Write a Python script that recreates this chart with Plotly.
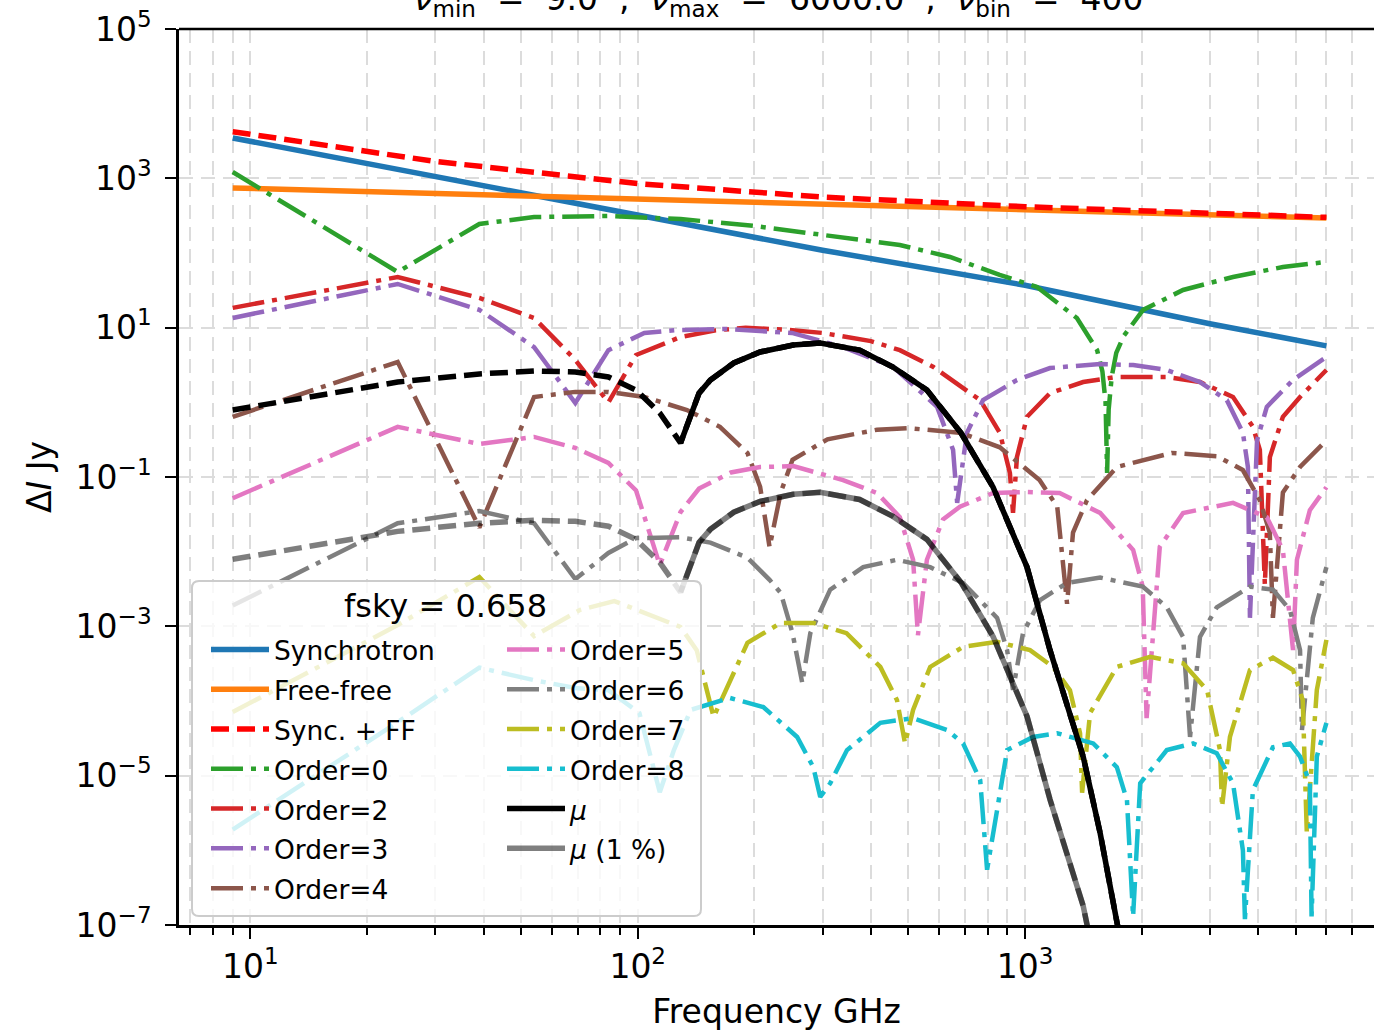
import plotly.graph_objects as go

# ---------------- data ----------------
freq_sync = [9, 30, 100, 300, 1000, 3000, 6000]
synchrotron = [3470, 1057, 323, 109, 37, 11.3, 5.7]

freq_ff = [9, 30, 100, 300, 1000, 3000, 6000]
free_free = [743, 627, 527, 452, 380, 326, 294]

freq_sum = [9, 30, 100, 300, 1000, 3000, 6000]
sync_ff = [4213, 1684, 850, 561, 417, 337, 300]

freq_o0 = [9, 24, 39, 54, 84, 129, 200, 262, 475, 640, 860, 1074, 1361, 1535, 1584,
           1614, 1629, 1644, 1674, 1720, 1800, 2018, 2559, 3443, 4632, 6000]
order0 = [1216, 55.7, 245, 303, 313, 285, 230, 191, 128, 88.5, 51, 35, 13.5, 5.0, 2.6,
          1.0, 0.113, 0.8, 2.2, 4.6, 7.8, 17.3, 32, 47.7, 65, 76]

freq_o2 = [9, 24, 39, 54, 69, 84, 99, 114, 129, 159, 190, 247, 300, 400, 475, 580, 766,
           861, 914, 931, 953, 1012, 1160, 1413, 1726, 2323, 2829, 3443, 3875, 4039,
           4161, 4287, 4632, 5129, 6000]
order2 = [18.4, 47.7, 25, 13.5, 3.7, 1.0, 4.3, 5.8, 7.5, 9.2, 10, 9.3, 8.5, 6.6, 5.0,
          2.97, 1.07, 0.39, 0.113, 0.033, 0.185, 0.64, 1.33, 1.87, 2.19, 2.19, 1.87,
          1.18, 0.47, 0.23, 0.0036, 0.185, 0.64, 1.18, 2.71]

freq_o3 = [9, 24, 39, 54, 69, 84, 104, 126, 170, 250, 339, 456, 593, 652, 668, 708, 779,
           953, 1160, 1563, 1902, 2323, 2829, 3319, 3652, 3762, 3808, 3972, 4210, 4920, 6000]
order3 = [13.5, 38.5, 17.3, 5.5, 0.98, 5.0, 8.5, 9.3, 9.6, 8.5, 5.5, 3.0, 0.87, 0.23,
          0.045, 0.39, 1.07, 1.99, 2.88, 3.26, 3.16, 2.71, 1.87, 1.07, 0.39, 0.136,
          0.0013, 0.31, 0.87, 2.0, 4.05]

freq_o4 = [9, 24, 39, 54, 69, 84, 104, 134, 163, 192, 207, 219, 234, 251, 309, 415, 504,
           683, 861, 1090, 1211, 1254, 1284, 1330, 1445, 1726, 2393, 3130, 3650, 4039,
           4285, 4365, 4632, 5129, 6000]
order4 = [0.64, 3.47, 0.021, 1.18, 1.38, 1.38, 1.18, 0.79, 0.47, 0.21, 0.074, 0.0115,
          0.062, 0.17, 0.32, 0.43, 0.45, 0.39, 0.25, 0.091, 0.040, 0.0063, 0.002, 0.018,
          0.049, 0.136, 0.21, 0.19, 0.124, 0.049, 0.018, 0.0013, 0.062, 0.136, 0.31]

freq_o5 = [9, 24, 39, 54, 69, 84, 99, 114, 129, 144, 174, 207, 252, 339, 415, 475, 514,
           529, 558, 614, 679, 827, 1012, 1228, 1563, 1902, 2013, 2060, 2228, 2559, 3443,
           4210, 4632, 4920, 5035, 5437, 6000]
order5 = [0.052, 0.47, 0.277, 0.344, 0.245, 0.154, 0.066, 0.0066, 0.034, 0.07, 0.115,
          0.136, 0.14, 0.091, 0.061, 0.029, 0.0078, 0.00076, 0.0078, 0.027, 0.040, 0.061,
          0.063, 0.061, 0.033, 0.0105, 0.0034, 5.9e-5, 0.0116, 0.033, 0.045, 0.029,
          0.0105, 0.00048, 0.0078, 0.036, 0.073]

freq_o6 = [9, 24, 39, 54, 69, 84, 99, 129, 154, 192, 219, 234, 251, 266, 279, 314, 382,
           467, 569, 692, 847, 899, 931, 988, 1094, 1283, 1563, 2013, 2323, 2559, 2667,
           2829, 3126, 3808, 4365, 4830, 5129, 5188, 5534, 6000]
order6 = [0.0019, 0.024, 0.035, 0.024, 0.0043, 0.0096, 0.0152, 0.0156, 0.0132, 0.0083,
          0.0042, 0.0028, 0.00081, 0.000174, 0.00081, 0.0031, 0.0062, 0.0078, 0.0062,
          0.0038, 0.0013, 0.00048, 0.000141, 0.00081, 0.00225, 0.0038, 0.0045, 0.0034,
          0.0018, 0.00072, 3.3e-5, 0.00072, 0.0018, 0.0034, 0.0031, 0.00166, 0.00048,
          4.1e-5, 0.0013, 0.0062]

freq_o7 = [9, 24, 39, 54, 71, 87, 129, 142, 157, 166, 192, 234, 284, 346, 423, 467, 490,
           514, 569, 692, 847, 1030, 1181, 1306, 1387, 1404, 1472, 1726, 2105, 2559, 2951,
           3187, 3226, 3381, 3808, 4365, 4920, 5212, 5340, 5667, 6000]
order7 = [7.1e-5, 0.00104, 0.00458, 0.00074, 0.00166, 0.00218, 0.00098, 0.00048, 6.1e-5,
          0.000113, 0.0006, 0.00111, 0.00111, 0.00081, 0.000286, 0.000103, 2.7e-5, 7.6e-5,
          0.000286, 0.00053, 0.00062, 0.00048, 0.000286, 0.00014, 3.7e-5, 5.9e-6, 6.9e-5,
          0.000286, 0.00039, 0.00032, 0.00014, 2.2e-5, 3.8e-6, 3.3e-5, 0.00026, 0.00038,
          0.00026, 0.000103, 1.7e-6, 0.00014, 0.00066]

freq_o8 = [9, 24, 39, 54, 69, 84, 101, 114, 124, 137, 173, 211, 258, 284, 296, 314, 347,
           423, 514, 629, 692, 766, 798, 899, 1049, 1211, 1500, 1726, 1833, 1901, 1983,
           2323, 2715, 3126, 3443, 3652, 3696, 3875, 4365, 4830, 5129, 5437, 5493, 5667, 6000]
order8 = [1.9e-6, 5.2e-5, 0.00028, 0.00019, 0.000149, 0.00014, 6.9e-5, 6.0e-6, 2.2e-5,
          7.6e-5, 0.00011, 8.3e-5, 3.3e-5, 1.3e-5, 5.2e-6, 7.9e-6, 2.2e-5, 5.1e-5, 5.9e-5,
          4.1e-5, 2.7e-5, 8.7e-6, 5.5e-7, 2.2e-5, 3.3e-5, 3.7e-5, 2.7e-5, 1.3e-5, 4.7e-6,
          1.3e-7, 7.9e-6, 2.2e-5, 2.7e-5, 2.0e-5, 7.9e-6, 1.0e-6, 1.2e-7, 6.4e-6, 2.4e-5,
          2.7e-5, 1.8e-5, 7.9e-6, 1.3e-7, 1.8e-5, 5.1e-5]

freq_mu = [9, 24, 39, 54, 69, 84, 99, 114, 129, 144, 154, 177, 207, 252, 296, 374, 456,
           558, 683, 827, 1012, 1160, 1413, 1563, 1728, 1850]
mu = [0.79, 1.87, 2.4, 2.63, 2.55, 2.19, 1.46, 0.72, 0.286, 1.33, 1.99, 3.37, 4.72,
      5.86, 6.24, 5.0, 2.97, 1.46, 0.39, 0.073, 0.0062, 0.00048, 1.8e-5, 1.7e-6, 1.07e-7, 2e-8]
mu_1pct = [0.0079, 0.0187, 0.024, 0.0263, 0.0255, 0.0219, 0.0146, 0.0072, 0.00286,
           0.0133, 0.0199, 0.0337, 0.0472, 0.0586, 0.0624, 0.050, 0.0297, 0.0146, 0.0039,
           0.00073, 6.2e-5, 4.8e-6, 1.8e-7, 1.7e-8, 1.07e-9, 2e-10]
mu_positive_start = 8  # index of 129 GHz, where mu turns positive

x_tick_vals = [10, 100, 1000]
x_tick_text = ["10<sup>1</sup>", "10<sup>2</sup>", "10<sup>3</sup>"]
x_minor_vals = [7, 8, 9, 20, 30, 40, 50, 60, 70, 80, 90, 200, 300, 400, 500, 600, 700,
                800, 900, 2000, 3000, 4000, 5000, 6000, 7000]
y_tick_vals = [1e-7, 1e-5, 1e-3, 1e-1, 1e1, 1e3, 1e5]
y_tick_text = ["10<sup>\u22127</sup>", "10<sup>\u22125</sup>", "10<sup>\u22123</sup>",
               "10<sup>\u22121</sup>", "10<sup>1</sup>", "10<sup>3</sup>", "10<sup>5</sup>"]

# ---------------- layout helpers ----------------
W, H = 1374, 1031
L, R, T, B = 179, 0, 29, 106
PW, PH = W - L - R, H - T - B
FONT = "DejaVu Sans"


def px_x(x):
    return (x - L) / PW


def px_y(y):
    return 1 - (y - T) / PH


DASHDOT = "32px,8px,5px,8px"
DASHED = "18px,8px"
LEG_FS = 26.5


def lname(s):
    return "<span style='font-size:%spx'>%s</span>" % (LEG_FS, s)


fig = go.Figure()


def add(name, f, v, color, dash, width, legend, showlegend=True, opacity=1.0):
    fig.add_trace(go.Scatter(
        x=f, y=v, mode="lines", name=lname(name),
        line=dict(color=color, dash=dash, width=width),
        opacity=opacity, legend=legend, showlegend=showlegend, hoverinfo="skip"))


add("Synchrotron", freq_sync, synchrotron, "#1f77b4", "solid", 5.5, "legend")
add("Free-free", freq_ff, free_free, "#ff7f0e", "solid", 5.5, "legend")
add("Sync. + FF", freq_sum, sync_ff, "#ff0000", DASHED, 5.5, "legend")
add("Order=0", freq_o0, order0, "#2ca02c", DASHDOT, 4.5, "legend")
add("Order=2", freq_o2, order2, "#d62728", DASHDOT, 4.5, "legend")
add("Order=3", freq_o3, order3, "#9467bd", DASHDOT, 4.5, "legend")
add("Order=4", freq_o4, order4, "#8c564b", DASHDOT, 4.5, "legend")
add("Order=5", freq_o5, order5, "#e377c2", DASHDOT, 4.5, "legend2")
add("Order=6", freq_o6, order6, "#7f7f7f", DASHDOT, 4.5, "legend2")
add("Order=7", freq_o7, order7, "#bcbd22", DASHDOT, 4.5, "legend2")
add("Order=8", freq_o8, order8, "#17becf", DASHDOT, 4.5, "legend2")
add("<i>\u03bc</i>", freq_mu[mu_positive_start:], mu[mu_positive_start:], "black", "solid", 5.5, "legend2")
add("mu_abs", freq_mu, mu, "black", DASHED, 5.5, "legend2", showlegend=False)
add("<i>\u03bc</i> (1 %)", freq_mu[mu_positive_start:], mu_1pct[mu_positive_start:], "black", "solid", 5.5, "legend2", opacity=0.5)
add("mu1_abs", freq_mu, mu_1pct, "black", DASHED, 5.5, "legend2", showlegend=False, opacity=0.5)

GRID = dict(showgrid=True, gridcolor="#dcdcdc", griddash="14px,8px", gridwidth=2)

fig.update_xaxes(
    type="log", range=[0.8156, 3.901], tickvals=x_tick_vals, ticktext=x_tick_text,
    ticks="outside", ticklen=11, tickwidth=2, tickcolor="black",
    showline=True, linecolor="black", linewidth=2.5, mirror=False, zeroline=False,
    tickfont=dict(family=FONT, size=33, color="black"),
    title=dict(text="Frequency GHz", font=dict(family=FONT, size=33, color="black"), standoff=18),
    minor=dict(tickmode="array", tickvals=x_minor_vals, ticks="outside", ticklen=7,
               tickwidth=1.5, tickcolor="black", **GRID),
    **GRID)
fig.update_yaxes(
    type="log", range=[-7, 5], tickvals=y_tick_vals, ticktext=y_tick_text,
    ticks="outside", ticklen=11, tickwidth=2, tickcolor="black", ticklabelstandoff=7,
    showline=True, linecolor="black", linewidth=2.5, mirror=False, zeroline=False,
    tickfont=dict(family=FONT, size=33, color="black"),
    title=dict(text="\u0394<i>I</i> Jy", font=dict(family=FONT, size=33, color="black"), standoff=15),
    **GRID)

# legend frame (semi-transparent, above the lines like matplotlib)
bx0, bx1, by0, by1 = px_x(192), px_x(701), px_y(916), px_y(581)
rx, ry = 7 / PW, 7 / PH
box_path = (f"M{bx0 + rx},{by1} L{bx1 - rx},{by1} Q{bx1},{by1} {bx1},{by1 - ry} "
            f"L{bx1},{by0 + ry} Q{bx1},{by0} {bx1 - rx},{by0} L{bx0 + rx},{by0} "
            f"Q{bx0},{by0} {bx0},{by0 + ry} L{bx0},{by1 - ry} Q{bx0},{by1} {bx0 + rx},{by1} Z")
fig.add_shape(type="path", path=box_path, xref="paper", yref="paper", layer="above",
              fillcolor="rgba(255,255,255,0.8)", line=dict(color="#cccccc", width=2))
# top spine
fig.add_shape(type="line", xref="paper", yref="paper", x0=0, x1=1, y0=1, y1=1,
              layer="above", line=dict(color="black", width=2.5))

fig.add_annotation(text="fsky = 0.658", xref="paper", yref="paper", x=px_x(445), y=px_y(605.5),
                   xanchor="center", yanchor="middle", showarrow=False,
                   font=dict(family=FONT, size=32, color="black"))
SP = "\u00a0"
title_text = ("<i>\u03bd</i><sub>min</sub>" + SP * 2 + "=" + SP * 2 + "9.0" + SP * 2 + "," + SP * 2 +
              "<i>\u03bd</i><sub>max</sub>" + SP * 2 + "=" + SP * 2 + "6000.0" + SP * 2 + "," + SP * 2 +
              "<i>\u03bd</i><sub>bin</sub>" + SP * 2 + "=" + SP * 2 + "400")
fig.add_annotation(text=title_text,
                   xref="paper", yref="paper", x=px_x(779), y=1, yshift=5,
                   xanchor="center", yanchor="bottom", showarrow=False,
                   font=dict(family=FONT, size=33, color="black"))

leg_common = dict(bgcolor="rgba(0,0,0,0)", borderwidth=0, itemwidth=58,
                  font=dict(family=FONT, size=28.3, color="black"),
                  xanchor="left", yanchor="top", orientation="v", traceorder="normal")
fig.update_layout(
    width=W, height=H, margin=dict(l=L, r=R, t=T, b=B, autoexpand=False),
    paper_bgcolor="white", plot_bgcolor="white",
    legend=dict(x=px_x(206), y=px_y(624.5), **leg_common),
    legend2=dict(x=px_x(502), y=px_y(624.5), **leg_common),
    showlegend=True,
)

fig.write_html("out.html")
